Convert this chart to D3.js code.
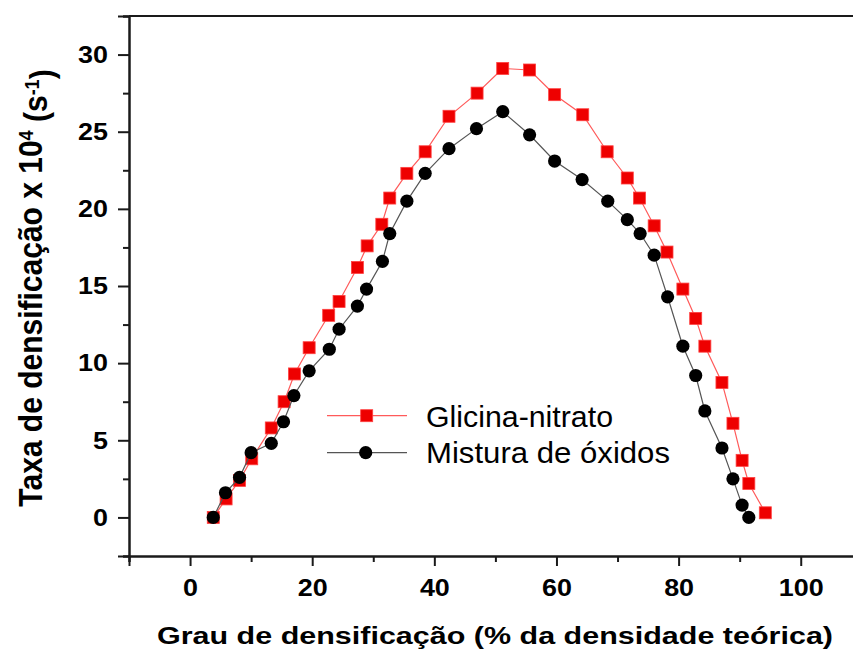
<!DOCTYPE html>
<html>
<head>
<meta charset="utf-8">
<script src="https://cdn.jsdelivr.net/npm/d3@7"></script>
<style>
  html, body { margin: 0; padding: 0; background: #fff; }
  svg { display: block; }
  text { font-family: "Liberation Sans", Arial, sans-serif; fill: #000; }
</style>
</head>
<body>
<svg id="chart" width="853" height="651"></svg>
<script>
// ---- Data ----
const glicinaX = [3.8, 5.9, 8.1, 10.1, 13.3, 15.4, 17.1, 19.5, 22.7, 24.4, 27.4, 29.0, 31.4, 32.7, 35.5, 38.5, 42.4, 47.0, 51.2, 55.6, 59.7, 64.3, 68.3, 71.6, 73.6, 76.0, 78.1, 80.7, 82.8, 84.3, 87.1, 88.9, 90.4, 91.5, 94.2];
const glicinaY = [0.0, 1.2, 2.4, 3.8, 5.8, 7.5, 9.3, 11.0, 13.1, 14.0, 16.2, 17.6, 19.0, 20.7, 22.3, 23.7, 26.0, 27.5, 29.1, 29.0, 27.4, 26.1, 23.7, 22.0, 20.7, 18.9, 17.2, 14.8, 12.9, 11.1, 8.75, 6.1, 3.7, 2.2, 0.3];
const misturaX = [3.8, 5.8, 8.1, 10.0, 13.3, 15.3, 17.0, 19.5, 22.8, 24.4, 27.4, 28.9, 31.5, 32.7, 35.5, 38.5, 42.4, 46.9, 51.2, 55.6, 59.7, 64.2, 68.4, 71.6, 73.7, 76.0, 78.2, 80.7, 82.8, 84.3, 87.1, 88.9, 90.4, 91.5];
const misturaY = [0.0, 1.6, 2.6, 4.2, 4.8, 6.2, 7.9, 9.5, 10.9, 12.2, 13.7, 14.8, 16.6, 18.4, 20.5, 22.3, 23.9, 25.2, 26.3, 24.8, 23.1, 21.9, 20.5, 19.3, 18.4, 17.0, 14.3, 11.1, 9.2, 6.9, 4.5, 2.5, 0.8, 0.0];
const seriesNames = ["Glicina-nitrato", "Mistura de óxidos"];
const xMajorTicks = [0, 20, 40, 60, 80, 100];
const xMinorTicks = [-10, 10, 30, 50, 70, 90, 110];
const yMajorTicks = [0, 5, 10, 15, 20, 25, 30];
const yMinorTicks = [-2.5, 2.5, 7.5, 12.5, 17.5, 22.5, 27.5, 32.5];
const xTitle = "Grau de densificação (% da densidade teórica)";

// ---- Layout ----
const svg = d3.select("#chart");
const x = d3.scaleLinear().domain([-10, 110]).range([129, 861.8]);
const y = d3.scaleLinear().domain([-2.5, 32.5]).range([556, 16]);
const axisColor = "#1a1a1a";

// frame top line
svg.append("line")
  .attr("x1", x(-10)).attr("x2", x(110))
  .attr("y1", y(32.5)).attr("y2", y(32.5))
  .attr("stroke", axisColor).attr("stroke-width", 2);

// Axes
function styleAxis(g) {
  g.select(".domain").attr("stroke", axisColor).attr("stroke-width", 2);
  g.selectAll(".tick line").attr("stroke", axisColor).attr("stroke-width", 2);
}
const gxMinor = svg.append("g").attr("transform", `translate(0,${y(-2.5)})`)
  .call(d3.axisBottom(x).tickValues(xMinorTicks).tickSize(6).tickFormat(""));
styleAxis(gxMinor);
const gx = svg.append("g").attr("transform", `translate(0,${y(-2.5)})`)
  .call(d3.axisBottom(x).tickValues(xMajorTicks).tickSize(10).tickFormat(d3.format("d")));
styleAxis(gx);
gx.selectAll(".tick text")
  .attr("y", 40.5).attr("dy", 0).attr("x", 0)
  .attr("transform", "scale(1.17,1)")
  .style("font-size", "23px").style("font-weight", "bold");

const gyMinor = svg.append("g").attr("transform", `translate(${x(-10)},0)`)
  .call(d3.axisLeft(y).tickValues(yMinorTicks).tickSize(6).tickFormat(""));
styleAxis(gyMinor);
const gy = svg.append("g").attr("transform", `translate(${x(-10)},0)`)
  .call(d3.axisLeft(y).tickValues(yMajorTicks).tickSize(11).tickFormat(d3.format("d")));
styleAxis(gy);
gy.selectAll(".tick text")
  .attr("x", -21 / 1.17).attr("dy", "0.34em")
  .attr("transform", "scale(1.17,1)")
  .style("font-size", "23px").style("font-weight", "bold");

// X title
svg.append("text")
  .attr("x", 495).attr("y", 644)
  .attr("text-anchor", "middle")
  .attr("textLength", 676).attr("lengthAdjust", "spacingAndGlyphs")
  .style("font-size", "23px").style("font-weight", "bold")
  .text(xTitle);

// Y title
const yt = svg.append("text")
  .attr("transform", "translate(41.5,288) scale(1.08,1) rotate(-90)")
  .attr("text-anchor", "middle")
  .style("font-size", "30px").style("font-weight", "bold");
yt.append("tspan").text("Taxa de densificação x 10");
yt.append("tspan").attr("dy", "-0.45em").style("font-size", "18px").text("4");
yt.append("tspan").attr("dy", "0.45em").text(" (s");
yt.append("tspan").attr("dy", "-0.45em").style("font-size", "18px").text("-1");
yt.append("tspan").attr("dy", "0.45em").text(")");

// ---- Series ----
const redLine = "#ff5a5a", redFill = "#ee0000";
const blkLine = "#555555", blkFill = "#000000";
const glicina = glicinaX.map((v, i) => [v, glicinaY[i]]);
const mistura = misturaX.map((v, i) => [v, misturaY[i]]);
const line = d3.line().x(d => x(d[0])).y(d => y(d[1]));

svg.append("path").datum(glicina).attr("d", line)
  .attr("fill", "none").attr("stroke", redLine).attr("stroke-width", 1.2);
svg.append("g").selectAll("rect").data(glicina).join("rect")
  .attr("x", d => x(d[0]) - 6).attr("y", d => y(d[1]) - 6)
  .attr("width", 12).attr("height", 12)
  .attr("fill", redFill).attr("stroke", "#ff4040").attr("stroke-width", 0.8);

svg.append("path").datum(mistura).attr("d", line)
  .attr("fill", "none").attr("stroke", blkLine).attr("stroke-width", 1.2);
svg.append("g").selectAll("circle").data(mistura).join("circle")
  .attr("cx", d => x(d[0])).attr("cy", d => y(d[1]))
  .attr("r", 6.6).attr("fill", blkFill);

// ---- Legend ----
const leg = svg.append("g");
leg.append("line").attr("x1", 327).attr("x2", 407).attr("y1", 415.7).attr("y2", 415.7)
  .attr("stroke", redLine).attr("stroke-width", 1.2);
leg.append("rect").attr("x", 366.7 - 6).attr("y", 415.7 - 6).attr("width", 12).attr("height", 12)
  .attr("fill", redFill).attr("stroke", "#ff4040").attr("stroke-width", 0.8);
leg.append("text").attr("x", 426).attr("y", 426.7)
  .attr("textLength", 187).attr("lengthAdjust", "spacingAndGlyphs")
  .style("font-size", "29px").text(seriesNames[0]);
leg.append("line").attr("x1", 327).attr("x2", 407).attr("y1", 452.7).attr("y2", 452.7)
  .attr("stroke", blkLine).attr("stroke-width", 1.2);
leg.append("circle").attr("cx", 365.7).attr("cy", 452.7).attr("r", 6.6).attr("fill", blkFill);
leg.append("text").attr("x", 426).attr("y", 463.3)
  .attr("textLength", 244).attr("lengthAdjust", "spacingAndGlyphs")
  .style("font-size", "29px").text(seriesNames[1]);
</script>
</body>
</html>
